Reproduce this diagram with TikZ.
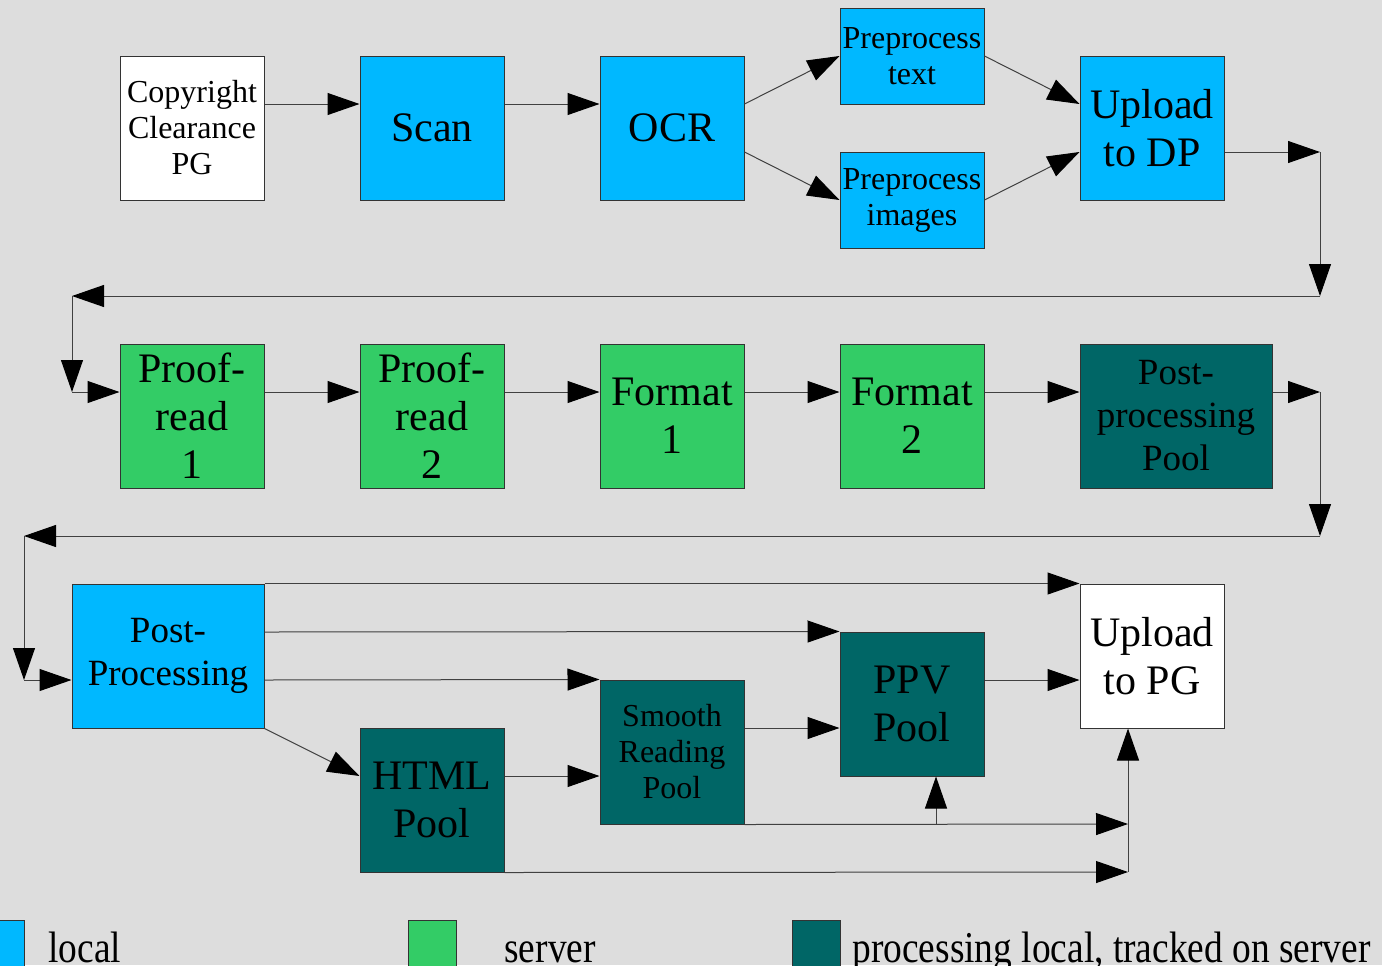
\documentclass[tikz,border=0pt]{standalone}
\usepackage{fontspec}
\setmainfont{Liberation Serif}
\usetikzlibrary{arrows.meta}
\definecolor{skyblue}{RGB}{0,184,255}
\definecolor{servergreen}{RGB}{51,204,102}
\definecolor{poolteal}{RGB}{0,102,102}
\definecolor{canvas}{RGB}{221,221,221}

\begin{document}
\begin{tikzpicture}[x=0.5pt, y=-0.5pt,
                    arrow/.style = {draw=black!75, line width=0.5pt, -{Triangle[length=16pt,width=11pt,color=black]}},
                    box/.style = {draw=black!80, line width=0.5pt, inner sep=0pt, minimum width=72pt,
                                  minimum height=72pt, align=center, font=\fontsize{21}{24}\selectfont},
                    smalltext/.style = {font=\fontsize{16}{18}\selectfont},
                    midtext/.style = {font=\fontsize{18.5}{21.5}\selectfont},
                    local/.style = {box, fill=skyblue},
                    server/.style = {box, fill=servergreen},
                    pool/.style = {box, fill=poolteal},
                    legendbox/.style = {draw=black!80, line width=0.5pt, inner sep=0pt, minimum width=24pt, minimum height=24pt},
                    legendtext/.style = {anchor=base west, inner sep=0pt, font=\fontsize{22}{26}\selectfont}]
                    \useasboundingbox (0,0) rectangle (1382,965);
                    \clip (0,0) rectangle (1382,965);
                    \fill[canvas] (0,0) rectangle (1382,965);

                    \node[box, smalltext, fill=white] (copy) at (192,128) {Copyright\\Clearance\\PG};
                    \node[local] (scan) at (432,128) {Scan};
                    \node[local] (ocr) at (672,128) {OCR};
                    \node[local, smalltext, minimum height=48pt] (pretext) at (912,56) {Preprocess\\text};
                    \node[local, smalltext, minimum height=48pt] (preimg) at (912,200) {Preprocess\\images};
                    \node[local] (updp) at (1152,128) {Upload\\to DP};
                    \draw[arrow] ([yshift=12pt]copy.east) -- ([yshift=12pt]scan.west);
                    \draw[arrow] ([yshift=12pt]scan.east) -- ([yshift=12pt]ocr.west);
                    \draw[arrow] ([yshift=12pt]ocr.east) -- (pretext.west);
                    \draw[arrow] ([yshift=-12pt]ocr.east) -- (preimg.west);
                    \draw[arrow] (pretext.east) -- ([yshift=12pt]updp.west);
                    \draw[arrow] (preimg.east) -- ([yshift=-12pt]updp.west);

                    \coordinate (c1) at (1320,152);
                    \coordinate (c2) at (1320,296);
                    \coordinate (c3) at (72,296);
                    \coordinate (c4) at (72,392);
                    \draw[arrow] ([yshift=-12pt]updp.east) -- (c1);
                    \draw[arrow] (c1) -- (c2);
                    \draw[arrow] (c2) -- (c3);
                    \draw[arrow] (c3) -- (c4);

                    \node[server] (pr1) at (192,416) {Proof-\\read\\1};
                    \node[server] (pr2) at (432,416) {Proof-\\read\\2};
                    \node[server] (fmt1) at (672,416) {Format\\1};
                    \node[server] (fmt2) at (912,416) {Format\\2};
                    \node[pool, midtext, minimum width=96pt] (ppool) at (1176,416) {Post-\\processing\\Pool};
                    \draw[arrow] (c4) -- ([yshift=12pt]pr1.west);
                    \draw[arrow] ([yshift=12pt]pr1.east) -- ([yshift=12pt]pr2.west);
                    \draw[arrow] ([yshift=12pt]pr2.east) -- ([yshift=12pt]fmt1.west);
                    \draw[arrow] ([yshift=12pt]fmt1.east) -- ([yshift=12pt]fmt2.west);
                    \draw[arrow] ([yshift=12pt]fmt2.east) -- ([yshift=12pt]ppool.west);

                    \coordinate (c5) at (1320,392);
                    \coordinate (c6) at (1320,536);
                    \coordinate (c7) at (24,536);
                    \coordinate (c8) at (24,680);
                    \draw[arrow] ([yshift=12pt]ppool.east) -- (c5);
                    \draw[arrow] (c5) -- (c6);
                    \draw[arrow] (c6) -- (c7);
                    \draw[arrow] (c7) -- (c8);

                    \node[local, midtext, minimum width=96pt] (post) at (168,656) {Post-\\Processing};
                    \node[box, fill=white] (uppg) at (1152,656) {Upload\\to PG};
                    \node[pool] (ppv) at (912,704) {PPV\\Pool};
                    \node[pool, smalltext] (sr) at (672,752) {Smooth\\Reading\\Pool};
                    \node[pool] (html) at (432,800) {HTML\\Pool};
                    \draw[arrow] (c8) -- ([yshift=-12pt]post.west);
                    \draw[arrow] (post.north east) -- (uppg.north west);
                    \draw[arrow] ([yshift=12pt]post.east) -- (ppv.north west);
                    \draw[arrow] ([yshift=-12pt]post.east) -- (sr.north west);
                    \draw[arrow] (post.south east) -- ([yshift=12pt]html.west);
                    \draw[arrow] ([yshift=12pt]html.east) -- ([yshift=-12pt]sr.west);
                    \draw[arrow] ([yshift=12pt]sr.east) -- ([yshift=-12pt]ppv.west);
                    \draw[arrow] ([yshift=12pt]ppv.east) -- ([yshift=-12pt]uppg.west);

                    \coordinate (c9) at (1128,824);
                    \coordinate (c10) at (936,824);
                    \coordinate (c11) at (1128,872);
                    \draw[arrow] (sr.south east) -- (c9);
                    \draw[arrow] (c10) -- ([xshift=12pt]ppv.south);
                    \draw[arrow] (html.south east) -- (c11);
                    \draw[arrow] (c11) -- ([xshift=-12pt]uppg.south);

                    \node[legendbox, fill=skyblue] (keylocal) at (0,944) {};
                    \node[legendbox, fill=servergreen] (keyserver) at (432,944) {};
                    \node[legendbox, fill=poolteal] (keypool) at (816,944) {};
                    \node[legendtext] (txtlocal) at (48,962) {\scalebox{0.85}[1]{local}};
                    \node[legendtext] (txtserver) at (504,962) {\scalebox{0.85}[1]{server}};
                    \node[legendtext] (txtpool) at (852,962) {\scalebox{0.85}[1]{processing local, tracked on server}};
                \end{tikzpicture}
\end{document}
